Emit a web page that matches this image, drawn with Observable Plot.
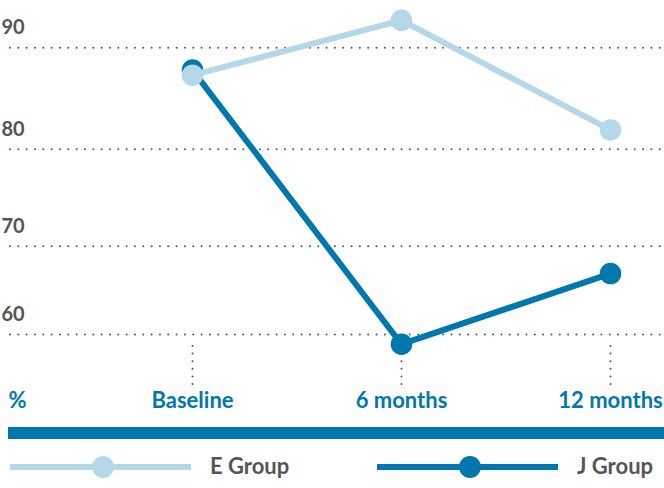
<!DOCTYPE html>
<html>
<head>
<meta charset="utf-8">
<script src="https://cdn.jsdelivr.net/npm/d3@7"></script>
<script src="https://cdn.jsdelivr.net/npm/@observablehq/plot@0.6"></script>
<style>
  body { margin: 0; background: #fff; font-family: Lato, sans-serif; }
  #legend { position: relative; width: 664px; height: 68px; }
  #legend .bar { position: absolute; left: 8px; right: 0; top: 7px; height: 12px; background: #0077ad; }
  #legend .ln { position: absolute; height: 6px; }
  #legend .dot { position: absolute; width: 22px; height: 22px; border-radius: 50%; }
  #legend .lbl { position: absolute; font-size: 22px; font-weight: bold; color: #555; line-height: 22px; }
</style>
</head>
<body>
<div id="chart"></div>
<div id="legend"><div class="bar"></div></div>
<script>
const categories = ["Baseline", "6 months", "12 months"];
const eGroup = [87.3, 92.7, 81.9];
const jGroup = [87.8, 58.9, 66.9];
const yTicks = [60, 70, 80, 90];
const seriesNames = ["E Group", "J Group"];
const seriesColors = ["#b4d8e8", "#0077ad"];

const rows = (vals) => categories.map((c, i) => ({time: c, value: vals[i]}));
const eRows = rows(eGroup);
const jRows = rows(jGroup);

const dotted = {stroke: "#555", strokeWidth: 2, strokeLinecap: "round"};

const chart = Plot.plot({
  width: 664,
  height: 420,
  marginLeft: 10,
  marginRight: 0,
  marginTop: 346,
  marginBottom: 36,
  style: {fontFamily: "Lato, sans-serif", background: "white", display: "block"},
  x: {type: "point", domain: categories, range: [191, 610], padding: 0, label: null},
  y: {type: "linear", domain: yTicks, range: [334, 245.7, 148.7, 47.3], label: null},
  marks: [
    Plot.ruleY(yTicks, {...dotted, strokeDasharray: "0,8.33"}),
    Plot.axisY(yTicks, {tickSize: 0, textAnchor: "start", dy: -20, fontSize: 20, fontWeight: "bold", color: "#555", label: null}),
    Plot.ruleX(categories, {x: d => d, ...dotted, strokeDasharray: "0,7.6"}),
    Plot.axisX({tickSize: 0, tickPadding: 8, fontSize: 22, fontWeight: "bold", color: "#0077ad", label: null}),
    Plot.text(["%"], {frameAnchor: "bottom-left", dx: -2, dy: 8, lineAnchor: "top", textAnchor: "start", fontSize: 22, fontWeight: "bold", fill: "#0077ad"}),
    Plot.line(jRows, {x: "time", y: "value", stroke: seriesColors[1], strokeWidth: 6}),
    Plot.dot(jRows, {x: "time", y: "value", r: 10.8, fill: seriesColors[1]}),
    Plot.line(eRows, {x: "time", y: "value", stroke: seriesColors[0], strokeWidth: 6}),
    Plot.dot(eRows, {x: "time", y: "value", r: 10.8, fill: seriesColors[0]})
  ]
});
document.getElementById("chart").append(chart);

const legend = document.getElementById("legend");
seriesNames.forEach((name, i) => {
  const x0 = 10 + i * 367;
  const ln = document.createElement("div");
  ln.className = "ln";
  ln.style.cssText = `left:${x0}px;width:181px;top:${46.7 - 3}px;background:${seriesColors[i]}`;
  const dot = document.createElement("div");
  dot.className = "dot";
  dot.style.cssText = `left:${x0 + 93 - 11}px;top:${46.7 - 11}px;background:${seriesColors[i]}`;
  const lbl = document.createElement("div");
  lbl.className = "lbl";
  lbl.style.cssText = `left:${x0 + 200}px;top:${46 - 11}px`;
  lbl.textContent = name;
  legend.append(ln, dot, lbl);
});
</script>
</body>
</html>
